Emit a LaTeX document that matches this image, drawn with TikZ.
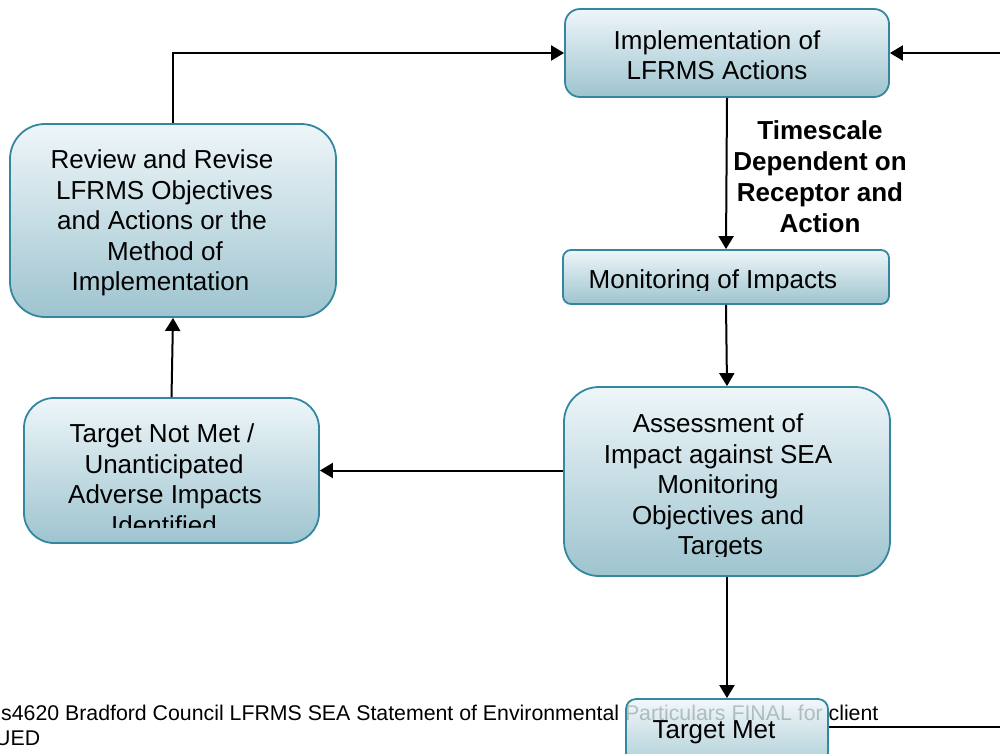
\documentclass[tikz,border=0pt]{standalone}
\usepackage{fontspec}
\setmainfont{Liberation Sans}
\usetikzlibrary{arrows.meta}
\definecolor{boxtop}{RGB}{238,246,249}
\definecolor{boxbot}{RGB}{158,196,207}
\definecolor{boxline}{RGB}{52,135,158}
\begin{document}
\begin{tikzpicture}[x=1pt,y=-1pt,
  box/.style={draw=boxline, line width=1.8pt, top color=boxtop, bottom color=boxbot, inner sep=0pt},
  txt/.style={align=center, font=\fontsize{26}{30.5}\selectfont, inner sep=0pt},
  boldtxt/.style={align=center, font=\bfseries\fontsize{26}{31}\selectfont, inner sep=0pt},
  foottxt/.style={anchor=base west, font=\fontsize{21.3}{25}\selectfont, inner sep=0pt},
  conn/.style={line width=2pt, -{Triangle[length=13pt,width=15pt]}},
  plainline/.style={line width=2pt}]
\useasboundingbox (0,0) rectangle (1000,753);

% footer text (behind the last box)
\node[foottxt] (foot1) at (1,720) {s4620 Bradford Council LFRMS SEA Statement of Environmental Particulars FINAL for client};
\node[foottxt] (foot2) at (-5,745) {UED};

% boxes
\node[box, rounded corners=15pt, minimum width=324pt, minimum height=88pt] (impl) at (727,53) {};
\node[box, rounded corners=35pt, minimum width=326pt, minimum height=193pt] (review) at (173,220.5) {};
\node[box, rounded corners=8pt, minimum width=326pt, minimum height=54pt] (mon) at (726,277) {};
\node[box, rounded corners=35pt, minimum width=326pt, minimum height=189pt] (assess) at (727,481.5) {};
\node[box, rounded corners=30pt, minimum width=295pt, minimum height=145pt] (tnm) at (171.5,470.5) {};
\node[box, fill opacity=0.8, rounded corners=10pt, minimum width=202pt, minimum height=64pt] (met) at (727,731) {};

% texts
\node[txt] (implT) at (717,55) {Implementation of\\LFRMS Actions};
\node[txt] (reviewT) at (162,223) {Review and Revise\\\hspace*{5pt}LFRMS Objectives\\and Actions or the\hspace*{15pt}\\\hspace*{6pt}Method of\\Implementation\hspace*{3pt}};
\begin{scope}
  \clip (0,0) rectangle (1000,290);
  \node[txt] (monT) at (713,282) {Monitoring of Impacts};
\end{scope}
\begin{scope}
  \clip (0,300) rectangle (1000,556);
  \node[txt] (assessT) at (718,487) {Assessment of\\Impact against SEA\\Monitoring\hspace*{7pt}\\Objectives and\\\hspace*{5pt}Targets};
\end{scope}
\begin{scope}
  \clip (0,300) rectangle (540,527);
  \node[txt] (tnmT) at (164,479) {Target Not Met /\hspace*{4pt}\\Unanticipated\hspace*{19pt}\\\hspace*{2pt}Adverse Impacts\\Identified};
\end{scope}
\node[txt] (metT) at (714,732) {Target Met};
\node[boldtxt] (ts) at (820,177) {Timescale\\Dependent on\\Receptor and\\Action};

% connectors
\coordinate (rin) at (1000,53);
\coordinate (rout) at (1000,727);
\draw[conn] (review.north) |- (impl.west);
\draw[conn] (rin) -- (impl.east);
\draw[conn] (impl.south) -- (mon.north);
\draw[conn] (mon.south) -- (assess.north);
\draw[conn] (assess.west |- tnm.east) -- (tnm.east);
\draw[conn] (tnm.north) -- (review.south);
\draw[conn] (assess.south) -- (met.north);
\draw[plainline] (met.east |- rout) -- (rout);
\end{tikzpicture}
\end{document}
